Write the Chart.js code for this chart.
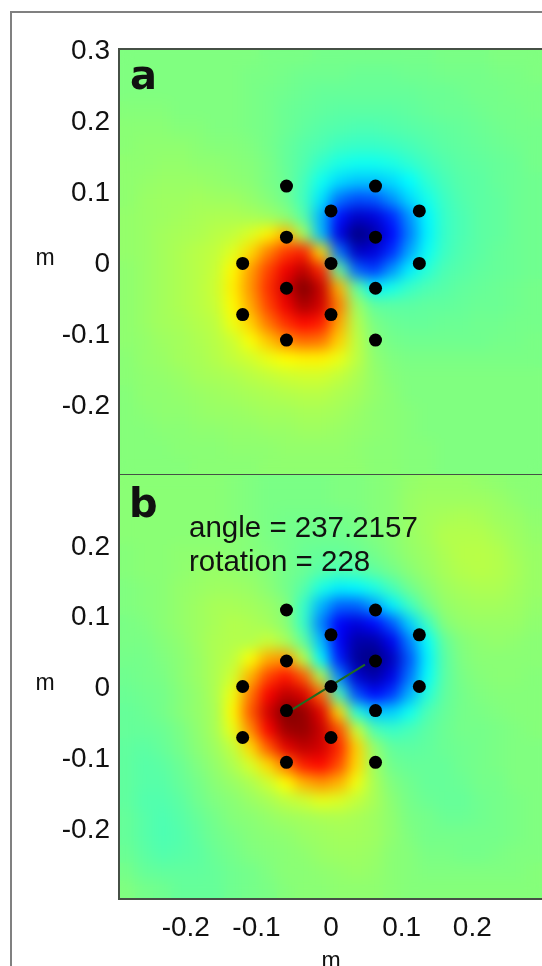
<!DOCTYPE html>
<html>
<head>
<meta charset="utf-8">
<title>field maps</title>
<script src="https://cdn.jsdelivr.net/npm/chart.js@4"></script>
<style>
  html, body { margin: 0; padding: 0; background: #fff; overflow: hidden; width: 542px; height: 966px; }
  #frame { position: absolute; left: 10px; top: 11px; right: 0; bottom: 0; border-left: 2px solid #808080; border-top: 2px solid #808080; }
  #wrapA { position: absolute; left: 0; top: 0; width: 543px; height: 475px; }
  #wrapB { position: absolute; left: 0; top: 474px; width: 543px; height: 492px; }
</style>
</head>
<body>
<div id="frame"></div>
<div id="wrapA"><canvas id="chartA" width="543" height="475"></canvas></div>
<div id="wrapB"><canvas id="chartB" width="543" height="492"></canvas></div>
<script>
// tick labels
const xTicksB = [-0.2, -0.1, 0, 0.1, 0.2];
const yTicksA = [0.3, 0.2, 0.1, 0, -0.1, -0.2];
const yTicksB = [0.2, 0.1, 0, -0.1, -0.2];

// grid cell centres (m)
const gridAxis = [-0.2875, -0.2625, -0.2375, -0.2125, -0.1875, -0.1625, -0.1375, -0.1125, -0.0875, -0.0625, -0.0375, -0.0125,
  0.0125, 0.0375, 0.0625, 0.0875, 0.1125, 0.1375, 0.1625, 0.1875, 0.2125, 0.2375, 0.2625, 0.2875];

// sensor positions
const sensorX = [-0.063, 0.063, 0, 0.125, -0.063, 0.063, -0.125, 0, 0.125, -0.063, 0.063, -0.125, 0, -0.063, 0.063];
const sensorYA = [0.107, 0.107, 0.072, 0.072, 0.035, 0.035, -0.002, -0.002, -0.002, -0.037, -0.037, -0.074, -0.074, -0.110, -0.110];
const sensorYB = [0.108, 0.108, 0.073, 0.073, 0.036, 0.036, 0, 0, 0, -0.034, -0.034, -0.072, -0.072, -0.107, -0.107];

// line in panel b
const lineX = [-0.062, 0.048];
const lineY = [-0.037, 0.031];

// panel a, top row first, -100 (dark blue) to 100 (dark red)
const fieldA = [
  [0,0,0,0,0,0,0,0,-1,-1,-1,-2,-2,-2,-2,-2,-2,-2,-1,-1,-1,0,0,0],
  [0,0,0,0,0,0,0,-1,-1,-2,-3,-3,-3,-4,-4,-4,-3,-3,-2,-2,-2,-1,-1,0],
  [0,0,0,0,0,0,0,-1,-2,-3,-4,-5,-5,-5,-5,-5,-5,-4,-4,-3,-2,-2,-1,-1],
  [1,1,1,0,0,0,0,-1,-2,-4,-5,-6,-7,-7,-7,-7,-6,-5,-4,-4,-3,-2,-2,-1],
  [2,2,2,1,1,0,0,-1,-2,-4,-6,-8,-9,-10,-10,-9,-8,-7,-6,-5,-4,-3,-2,-2],
  [2,3,3,3,2,1,1,0,-2,-5,-8,-10,-13,-14,-14,-13,-11,-9,-7,-6,-5,-4,-3,-2],
  [3,3,4,4,3,3,2,1,-1,-5,-9,-15,-20,-22,-22,-20,-16,-12,-9,-7,-6,-5,-4,-2],
  [3,4,5,5,5,4,3,2,-1,-4,-11,-22,-32,-36,-36,-32,-25,-16,-11,-8,-7,-5,-4,-3],
  [3,5,6,6,7,6,6,4,1,-3,-12,-30,-52,-60,-58,-46,-32,-21,-13,-9,-7,-6,-4,-3],
  [4,5,6,7,8,9,9,8,6,2,-8,-40,-72,-86,-82,-68,-46,-26,-14,-10,-7,-6,-4,-3],
  [4,5,7,8,9,11,13,18,27,40,8,-38,-80,-100,-92,-74,-50,-27,-14,-10,-7,-6,-4,-3],
  [4,5,7,9,11,13,19,32,50,64,70,30,-52,-86,-82,-66,-42,-23,-13,-9,-7,-5,-4,-3],
  [3,5,7,9,11,14,26,44,62,78,88,68,-5,-56,-64,-46,-28,-17,-10,-8,-6,-5,-4,-3],
  [3,5,7,9,11,15,28,46,66,84,100,86,40,-6,-28,-21,-14,-10,-8,-6,-5,-4,-3,-2],
  [3,5,7,9,11,14,26,42,62,78,92,84,50,6,-6,-7,-7,-6,-6,-5,-4,-4,-3,-2],
  [3,5,7,8,10,12,22,34,52,66,74,70,42,10,-1,-4,-5,-5,-4,-4,-3,-3,-2,-2],
  [3,4,6,7,9,11,15,24,36,48,54,52,34,12,1,-2,-3,-3,-3,-3,-3,-2,-2,-1],
  [2,4,5,7,8,10,13,16,21,25,27,27,21,12,3,0,-1,-1,-1,-1,-1,-1,-1,-1],
  [2,3,4,5,7,8,9,11,13,15,16,16,13,9,4,1,0,0,0,0,0,0,0,0],
  [1,3,3,4,5,6,7,8,9,10,11,11,9,7,4,2,0,0,0,0,0,0,0,0],
  [1,2,3,3,4,5,5,6,7,7,8,8,7,5,3,2,1,0,0,0,0,0,0,0],
  [1,1,2,2,3,3,4,4,5,5,6,6,5,4,3,2,1,0,0,0,0,0,0,0],
  [1,1,1,2,2,2,3,3,3,4,4,4,4,3,2,2,1,1,0,0,0,0,0,0],
  [1,1,1,1,2,2,2,2,3,3,3,3,3,3,2,2,1,1,0,0,0,0,0,0]
];

// panel b, same layout
const fieldB = [
  [2,2,2,2,2,2,1,0,-1,-1,-1,-1,0,0,1,2,4,5,5,5,4,3,2,2],
  [2,2,2,2,2,2,1,0,-1,-1,-1,-1,0,0,1,2,5,6,6,6,6,5,3,2],
  [2,2,2,2,2,2,1,0,-1,-2,-2,-2,-2,-1,1,2,5,7,8,9,8,6,5,3],
  [2,2,2,2,2,2,2,1,-1,-2,-3,-3,-3,-2,0,2,5,7,10,10,10,8,6,4],
  [1,2,2,3,3,3,2,1,0,-2,-4,-5,-5,-4,-2,1,4,6,9,11,11,10,7,5],
  [1,2,2,3,4,5,4,3,1,-2,-4,-8,-10,-9,-6,-2,2,5,8,10,11,10,8,5],
  [0,1,2,4,5,6,6,5,2,-2,-8,-20,-28,-26,-20,-11,-3,2,6,8,9,9,7,5],
  [0,1,2,4,6,8,8,7,5,1,-14,-40,-56,-56,-44,-28,-13,-2,4,6,7,7,6,4],
  [-1,0,2,4,6,8,10,9,7,2,-14,-50,-76,-82,-74,-58,-34,-13,1,4,5,5,5,3],
  [-1,-1,1,3,6,9,10,10,14,8,-6,-38,-76,-92,-92,-78,-50,-24,-5,1,3,4,3,2],
  [-2,-2,0,2,5,9,12,24,42,46,12,-26,-70,-95,-100,-88,-58,-27,-7,0,2,2,2,2],
  [-3,-2,-1,2,5,9,16,40,62,72,58,10,-48,-84,-92,-80,-52,-24,-7,-1,1,2,2,1],
  [-4,-3,-2,1,4,9,22,52,76,88,82,55,-12,-60,-74,-64,-40,-18,-6,-2,0,1,1,1],
  [-5,-4,-2,1,4,8,26,58,84,100,96,80,32,-18,-36,-34,-22,-10,-5,-2,-1,0,1,1],
  [-5,-5,-4,-1,3,8,21,48,76,94,96,86,60,15,-10,-14,-11,-7,-4,-2,-2,-1,0,1],
  [-6,-7,-5,-2,2,6,13,32,58,80,88,84,68,34,4,-6,-7,-6,-4,-3,-2,-1,0,0],
  [-6,-8,-7,-4,0,4,9,17,32,52,70,74,60,32,6,-3,-5,-5,-5,-3,-2,-1,0,0],
  [-6,-8,-8,-5,-2,2,5,9,15,25,40,46,40,22,8,0,-3,-5,-5,-4,-2,-2,0,0],
  [-6,-9,-9,-7,-3,0,2,5,8,12,15,20,18,13,8,2,-2,-4,-5,-5,-3,-2,-1,0],
  [-5,-8,-10,-8,-5,-2,1,2,4,6,7,8,9,8,6,3,-1,-2,-4,-4,-3,-2,-1,0],
  [-5,-8,-10,-9,-6,-3,-1,1,2,3,5,6,7,7,6,3,0,-2,-2,-2,-2,-2,-1,0],
  [-4,-7,-9,-8,-7,-4,-2,0,1,2,3,5,6,6,5,2,1,-1,-1,-2,-2,-1,0,0],
  [-2,-5,-6,-6,-6,-5,-3,-2,0,2,2,3,4,5,4,2,1,0,0,0,0,0,0,1],
  [0,-2,-3,-5,-5,-5,-3,-2,-1,1,2,2,3,3,3,2,1,1,1,1,1,1,1,1]
];

const tickFont = { family: '"Liberation Sans"', size: 28 };

// jet colormap
function jet(v) {
  let t = (v + 100) / 200;
  let c = (x) => Math.round(255 * Math.max(0, Math.min(1, x)));
  let r = c(Math.min(4 * t - 1.5, -4 * t + 4.5));
  let g = c(Math.min(4 * t - 0.5, -4 * t + 3.5));
  let b = c(Math.min(4 * t + 0.5, -4 * t + 2.5));
  return 'rgb(' + r + ',' + g + ',' + b + ')';
}

function cellPoints(field) {
  let pts = [];
  field.forEach((row, j) => {
    row.forEach((v, i) => {
      pts.push({ x: gridAxis[i], y: gridAxis[gridAxis.length - 1 - j], v: v });
    });
  });
  return pts;
}

function heatDataset(field) {
  let pts = cellPoints(field);
  return {
    label: 'field',
    data: pts,
    order: 5,
    pointStyle: 'rect',
    pointRadius: 14,
    pointBorderWidth: 0,
    pointBackgroundColor: pts.map(p => jet(p.v)),
  };
}

function sensorDataset(ys) {
  return {
    label: 'sensors',
    data: sensorX.map((x, i) => ({ x: x, y: ys[i] })),
    order: 0,
    pointRadius: 6.5,
    pointBorderWidth: 0,
    pointBackgroundColor: '#000',
  };
}

// smooth the cells once they are on the canvas
const smoothField = {
  id: 'smoothField',
  afterDatasetDraw(chart, args) {
    if (chart.data.datasets[args.index].label !== 'field') return;
    let a = chart.chartArea;
    let ctx = chart.ctx;
    ctx.save();
    ctx.beginPath();
    ctx.rect(a.left, a.top, a.right - a.left, a.bottom - a.top);
    ctx.clip();
    ctx.filter = 'blur(7px)';
    ctx.drawImage(chart.canvas, a.left, a.top, a.right - a.left, a.bottom - a.top, a.left, a.top, a.right - a.left, a.bottom - a.top);
    ctx.restore();
  },
};

// plot outline and the free text of a panel
function panelDecor(texts) {
  return {
    id: 'panelDecor',
    afterDraw(chart) {
      let a = chart.chartArea;
      let ctx = chart.ctx;
      ctx.save();
      ctx.strokeStyle = '#465046';
      ctx.lineWidth = 2;
      ctx.strokeRect(a.left, a.top, a.right - a.left, a.bottom - a.top);
      ctx.fillStyle = '#111';
      ctx.textBaseline = 'alphabetic';
      texts.forEach(t => {
        ctx.font = t.font;
        ctx.textAlign = t.align || 'left';
        ctx.fillText(t.text, t.x, t.y);
      });
      ctx.restore();
    },
  };
}

// no room for label overhang, the plot box has to stay where it is
function noOverhang(s) {
  s.paddingTop = 0;
  s.paddingBottom = 0;
  s.paddingLeft = 0;
  s.paddingRight = 0;
}

function makeChart(id, datasets, yTicks, xTicks, padTop, xHeight, texts) {
  return new Chart(document.getElementById(id), {
    type: 'scatter',
    data: { datasets: datasets },
    plugins: [smoothField, panelDecor(texts)],
    options: {
      responsive: false,
      animation: false,
      layout: { autoPadding: false, padding: { top: padTop, left: 0, right: 0, bottom: 0 } },
      plugins: { legend: { display: false }, tooltip: { enabled: false } },
      scales: {
        x: {
          type: 'linear',
          min: -0.3,
          max: 0.3,
          display: xTicks.length > 0,
          grid: { display: false, drawTicks: false },
          border: { display: false },
          afterBuildTicks: (s) => { s.ticks = xTicks.map(v => ({ value: v })); },
          afterFit: (s) => { s.height = xHeight; noOverhang(s); },
          // trailing space pulls the negative labels a little to the left, as in the original
          ticks: { color: '#111', font: tickFont, padding: 12, maxRotation: 0, autoSkip: false, callback: (v) => (v < 0 ? v + ' ' : String(v)) },
        },
        y: {
          type: 'linear',
          min: -0.3,
          max: 0.3,
          grid: { display: false, drawTicks: false },
          border: { display: false },
          afterBuildTicks: (s) => { s.ticks = yTicks.map(v => ({ value: v })); },
          afterFit: (s) => { s.width = 119; noOverhang(s); },
          ticks: { color: '#111', font: tickFont, padding: 9, labelOffset: 2, autoSkip: false, callback: (v) => String(v) },
        },
      },
    },
  });
}

const boldFont = 'bold 40px "DejaVu Sans"';
const noteFont = '29.5px "Liberation Sans"';
const unitFont = '23px "Liberation Sans"';

makeChart('chartA', [sensorDataset(sensorYA), heatDataset(fieldA)], yTicksA, [], 49, 0, [
  { text: 'a', x: 130, y: 89, font: boldFont },
  { text: 'm', x: 45, y: 265, font: unitFont, align: 'center' },
]);

makeChart('chartB', [
  { label: 'line', data: lineX.map((x, i) => ({ x: x, y: lineY[i] })), order: 1, showLine: true, borderColor: '#1f6a1f', borderWidth: 2, pointRadius: 0 },
  sensorDataset(sensorYB),
  heatDataset(fieldB),
], yTicksB, xTicksB, 0, 67, [
  { text: 'b', x: 129, y: 43, font: boldFont },
  { text: 'angle = 237.2157', x: 189, y: 63, font: noteFont },
  { text: 'rotation = 228', x: 189, y: 97, font: noteFont },
  { text: 'm', x: 45, y: 216, font: unitFont, align: 'center' },
  { text: 'm', x: 331, y: 494, font: unitFont, align: 'center' },
]);
</script>
</body>
</html>
